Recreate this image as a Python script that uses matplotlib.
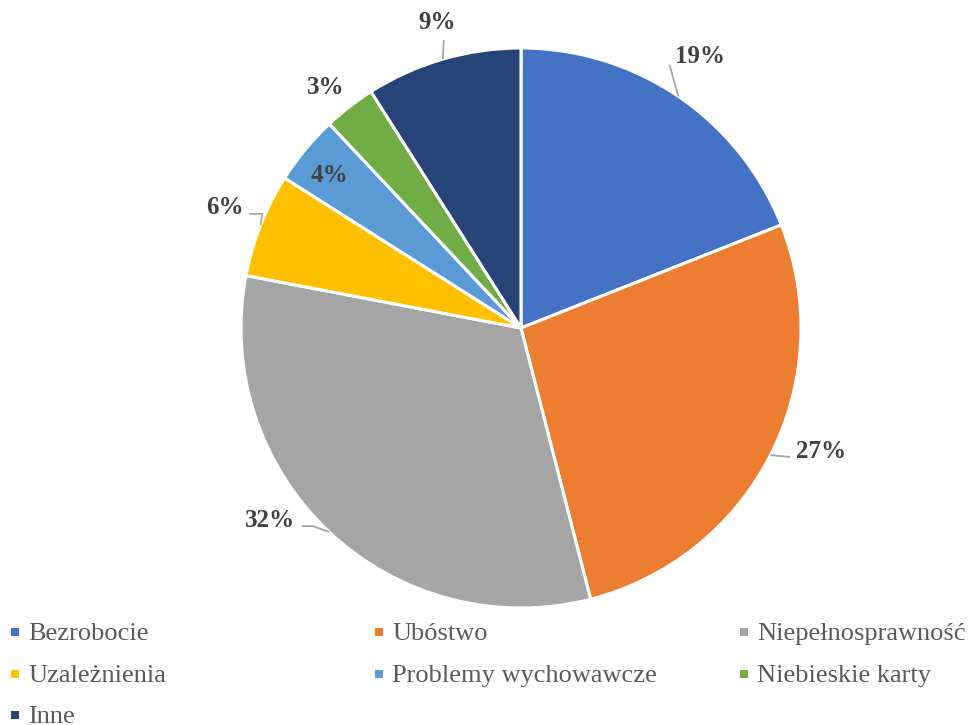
import numpy as np
import matplotlib.pyplot as plt
from matplotlib.patches import Rectangle

#------------------------------- DATA -----------------------------------------
categories = ["Bezrobocie", "Ubóstwo", "Niepełnosprawność", "Uzależnienia",
              "Problemy wychowawcze", "Niebieskie karty", "Inne"]
shares = [19, 27, 32, 6, 4, 3, 9]
colors = ["#4472C4", "#ED7D31", "#A5A5A5", "#FFC000", "#5B9BD5", "#70AD47", "#264478"]

# label placement: (angle shift from wedge middle in deg, radius factor)
label_pos = [(0.8, 1.16), (4.6, 1.16), (-9.4, 1.13), (-0.6, 1.143),
             (1.0, 0.875), (1.2, 1.107), (-0.8, 1.13)]
# leader lines: None or (end angle, end radius, horizontal tail)
leaders = [(60.6, 1.08, 0.0), (-25.6, 1.066, 0.0), (-136.4, 1.026, -0.04),
           (156.2, 1.01, -0.046), None, None, (105.0, 1.065, 0.0)]

plt.rcParams["font.family"] = ["Liberation Serif", "DejaVu Serif"]

W, H = 968, 725
fig = plt.figure(figsize=(W / 100, H / 100), dpi=100)
cx, cy, r = 521, 328, 280
ax = fig.add_axes([(cx - r) / W, (H - cy - r) / H, 2 * r / W, 2 * r / H])

wedges, _ = ax.pie(shares, colors=colors, startangle=90, counterclock=False,
                   radius=1.0, wedgeprops=dict(edgecolor="white", linewidth=2.2))
ax.set_xlim(-1, 1)
ax.set_ylim(-1, 1)
ax.axis("off")

for i, w in enumerate(wedges):
    mid = 0.5 * (w.theta1 + w.theta2)
    da, rf = label_pos[i]
    a = np.deg2rad(mid + da)
    ax.text(rf * np.cos(a), rf * np.sin(a), f"{shares[i]}%", ha="center", va="center",
            fontsize=18, fontweight="bold", color="#404040")
    if leaders[i] is not None:
        ea, er, tail = leaders[i]
        m = np.deg2rad(mid)
        e = np.deg2rad(ea)
        xs = [np.cos(m), er * np.cos(e)]
        ys = [np.sin(m), er * np.sin(e)]
        if tail:
            xs.append(xs[-1] + tail)
            ys.append(ys[-1])
        ax.plot(xs, ys, color="#A6A6A6", lw=1.3, clip_on=False, solid_capstyle="butt")

# legend, row-major 3 columns
col_x = [15, 379, 744]
row_y = [632, 674, 715]
for i, (lab, c) in enumerate(zip(categories, colors)):
    mx = col_x[i % 3]
    my = row_y[i // 3]
    fig.add_artist(Rectangle(((mx - 4) / W, (H - my - 4) / H), 8 / W, 8 / H,
                             transform=fig.transFigure, facecolor=c, edgecolor="none"))
    fig.text((mx + 13) / W, (H - my - 8) / H, lab, ha="left", va="baseline",
             fontsize=19, color="#595959")

fig.savefig("out.png", dpi=100)
